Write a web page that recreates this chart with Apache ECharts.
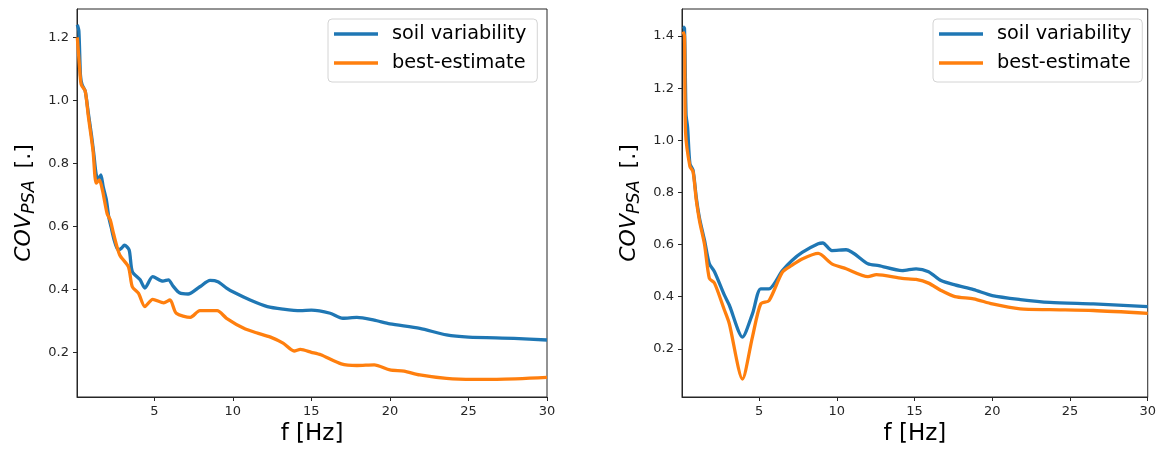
<!DOCTYPE html>
<html>
<head>
<meta charset="utf-8">
<script src="https://cdn.jsdelivr.net/npm/echarts@6/dist/echarts.min.js"></script>
<style>
  html, body { margin: 0; padding: 0; background: #fff; }
  #chart { width: 1159px; height: 453px; }
</style>
</head>
<body>
<div id="chart"></div>
<script>
// Coefficient of variation of PSA versus frequency, [f (Hz), COV]
const leftSoil = [
  [0.1,1.24],[0.2,1.22],[0.3,1.08],[0.4,1.05],[0.6,1.03],[0.8,0.96],[1.0,0.89],[1.15,0.83],
  [1.3,0.765],[1.45,0.75],[1.6,0.763],[1.75,0.725],[1.95,0.684],[2.1,0.63],[2.25,0.598],
  [2.45,0.556],[2.7,0.525],[2.9,0.53],[3.1,0.54],[3.4,0.525],[3.6,0.456],[4.1,0.43],
  [4.4,0.404],[4.9,0.44],[5.55,0.426],[5.9,0.43],[6.2,0.41],[6.6,0.389],[7.15,0.385],
  [7.9,0.408],[8.55,0.428],[9.05,0.424],[9.6,0.404],[10.0,0.392],[11.1,0.366],[12.2,0.345],
  [13.2,0.337],[14.3,0.332],[15.0,0.334],[16.2,0.324],[17.0,0.308],[17.9,0.311],[19.0,0.302],
  [20.0,0.29],[21.9,0.276],[23.6,0.255],[25.0,0.248],[27.9,0.244],[30.0,0.239]
];
const leftBest = [
  [0.1,1.20],[0.25,1.10],[0.35,1.05],[0.6,1.03],[0.8,0.95],[1.1,0.84],[1.3,0.737],[1.5,0.747],
  [1.7,0.715],[2.0,0.64],[2.2,0.62],[2.4,0.578],[2.8,0.509],[3.35,0.472],[3.6,0.408],[4.0,0.387],
  [4.4,0.345],[4.9,0.368],[5.6,0.357],[6.0,0.366],[6.4,0.324],[7.3,0.311],[7.9,0.332],[9.0,0.332],
  [9.6,0.308],[10.7,0.276],[11.5,0.262],[12.4,0.248],[13.2,0.229],[13.9,0.204],[14.3,0.209],
  [15.0,0.2],[15.6,0.192],[16.9,0.163],[17.9,0.158],[19.0,0.16],[20.0,0.144],[20.9,0.14],
  [21.9,0.128],[23.6,0.117],[25.3,0.114],[26.8,0.114],[30.0,0.12]
];
const rightSoil = [
  [0.1,1.436],[0.2,1.43],[0.3,1.10],[0.4,1.05],[0.55,0.91],[0.75,0.886],[0.96,0.78],[1.17,0.70],
  [1.49,0.616],[1.8,0.526],[2.13,0.496],[2.76,0.407],[3.08,0.368],[3.93,0.245],[4.57,0.334],
  [5.1,0.43],[5.64,0.43],[6.5,0.5],[7.1,0.538],[7.77,0.57],[8.8,0.603],[9.1,0.606],[9.68,0.577],
  [10.6,0.58],[12.0,0.526],[12.7,0.519],[14.2,0.5],[15.1,0.507],[15.9,0.496],[16.7,0.462],
  [17.6,0.445],[18.8,0.427],[20.0,0.404],[21.8,0.389],[23.7,0.378],[26.5,0.372],[30.0,0.362]
];
const rightBest = [
  [0.1,1.417],[0.2,1.40],[0.27,1.03],[0.55,0.90],[0.75,0.88],[0.96,0.77],[1.17,0.69],[1.49,0.60],
  [1.8,0.47],[2.13,0.452],[2.76,0.35],[3.08,0.297],[3.93,0.084],[4.57,0.245],[5.1,0.372],
  [5.64,0.385],[6.5,0.494],[7.1,0.52],[7.77,0.545],[8.8,0.566],[9.68,0.526],[10.6,0.507],
  [12.0,0.477],[12.55,0.485],[14.2,0.47],[15.1,0.466],[15.9,0.452],[16.7,0.424],[17.6,0.4],
  [18.8,0.392],[20.0,0.372],[21.8,0.353],[23.7,0.35],[26.5,0.347],[30.0,0.336]
];

const seriesNames = ['soil variability', 'best-estimate'];
const xTicks = [5, 10, 15, 20, 25, 30];
const leftYTicks = [0.2, 0.4, 0.6, 0.8, 1.0, 1.2];
const rightYTicks = [0.2, 0.4, 0.6, 0.8, 1.0, 1.2, 1.4];

const FONT = 'DejaVu Sans';
const INK = '#262626';
const COLORS = ['#1f77b4', '#ff7f0e'];

function xAxisFor(gridIndex, min) {
  return {
    type: 'value', gridIndex, min, max: 30,
    name: 'f [Hz]', nameLocation: 'middle', nameGap: 24,
    nameTextStyle: { fontFamily: FONT, fontSize: 23, color: '#000' },
    axisLine: { onZero: false, lineStyle: { color: INK, width: 1 } },
    axisTick: { show: true, length: 4, inside: false, customValues: xTicks, lineStyle: { color: INK } },
    axisLabel: { customValues: xTicks, fontFamily: FONT, fontSize: 13, color: INK, margin: 8 },
    splitLine: { show: false }
  };
}
function yAxisFor(gridIndex, min, max, ticks) {
  return {
    type: 'value', gridIndex, min, max,
    name: '{i|COV}{s|PSA}{n|[.]}', nameLocation: 'middle', nameRotate: 90, nameGap: 39,
    nameTextStyle: {
      fontFamily: FONT, color: '#000',
      rich: {
        i: { fontFamily: FONT, fontStyle: 'italic', fontSize: 22, color: '#000' },
        s: { fontFamily: FONT, fontStyle: 'italic', fontSize: 17.5, color: '#000', padding: [10, 0, 0, 0] },
        n: { fontFamily: FONT, fontSize: 22, color: '#000', padding: [0, 0, 0, 12] }
      }
    },
    axisLine: { show: true, lineStyle: { color: INK, width: 1 } },
    axisTick: { show: true, length: 4, customValues: ticks, lineStyle: { color: INK } },
    axisLabel: {
      customValues: ticks, fontFamily: FONT, fontSize: 13, color: INK, margin: 8,
      formatter: v => v.toFixed(1)
    },
    splitLine: { show: false }
  };
}
function lineSeries(name, data, idx, colorIdx) {
  return {
    type: 'line', name, data, xAxisIndex: idx, yAxisIndex: idx,
    showSymbol: false, smooth: 0.25,
    lineStyle: { width: 3.3, color: COLORS[colorIdx] },
    itemStyle: { color: COLORS[colorIdx] },
    z: colorIdx === 0 ? 2 : 3
  };
}
function legendAt(left) {
  return {
    data: seriesNames, orient: 'vertical', left, top: 19,
    icon: 'rect', itemWidth: 44, itemHeight: 3.5, itemGap: 7,
    padding: [4, 11, 8, 6],
    backgroundColor: 'rgba(255,255,255,0.8)',
    borderColor: '#d4d4d4', borderWidth: 1, borderRadius: 4,
    selectedMode: false,
    textStyle: { fontFamily: FONT, fontSize: 19.3, color: '#000', lineHeight: 22, padding: [0, 0, 0, 9] }
  };
}

const chart = echarts.init(document.getElementById('chart'), null, { renderer: 'canvas' });
chart.setOption({
  animation: false,
  backgroundColor: '#fff',
  grid: [
    { left: 77, top: 9, width: 470, height: 388, show: true, borderColor: INK, borderWidth: 1, backgroundColor: 'transparent' },
    { left: 682, top: 9, width: 470, height: 388, show: true, borderColor: INK, borderWidth: 1, backgroundColor: 'transparent' }
  ],
  xAxis: [xAxisFor(0, 0.08), xAxisFor(1, 0.04)],
  yAxis: [yAxisFor(0, 0.058, 1.29, leftYTicks), yAxisFor(1, 0.015, 1.504, rightYTicks)],
  legend: [legendAt(328), legendAt(933)],
  series: [
    lineSeries(seriesNames[0], leftSoil, 0, 0),
    lineSeries(seriesNames[1], leftBest, 0, 1),
    lineSeries(seriesNames[0], rightSoil, 1, 0),
    lineSeries(seriesNames[1], rightBest, 1, 1)
  ]
});
</script>
</body>
</html>
